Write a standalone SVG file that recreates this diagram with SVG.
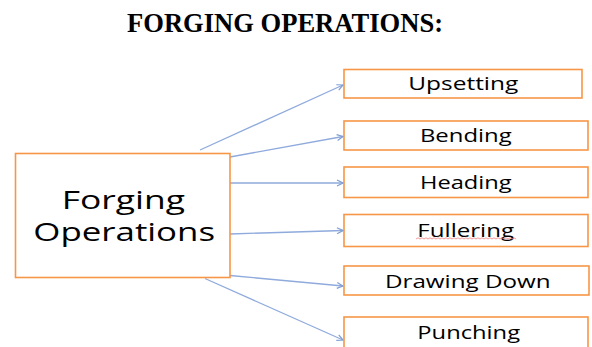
<svg xmlns="http://www.w3.org/2000/svg" width="592" height="347" viewBox="0 0 592 347">
<defs>
<style>
.box{fill:#fff;stroke:#F79646;stroke-width:1.6}
.lbl{font-family:"Open Sans","Liberation Sans",sans-serif;font-size:18px;fill:#000;text-anchor:middle}
.main{font-family:"Open Sans","Liberation Sans",sans-serif;font-size:25.5px;fill:#000;text-anchor:middle}
.title{font-family:"Liberation Serif","Times New Roman",serif;font-size:26.5px;font-weight:bold;fill:#000;text-anchor:middle}
.conn{stroke:#8FAADC;stroke-width:1.3;fill:none;marker-end:url(#arr)}
</style>
<marker id="arr" markerWidth="8" markerHeight="8" refX="7" refY="4" orient="auto" markerUnits="userSpaceOnUse">
<path d="M1,1 L7,4 L1,7" fill="none" stroke="#7F9FD3" stroke-width="1.2"/>
</marker>
</defs>
<rect width="592" height="347" fill="#fff"/>
<text class="title" x="285" y="31.5" textLength="316" lengthAdjust="spacingAndGlyphs">FORGING OPERATIONS:</text>
<g id="connectors">
<line class="conn" x1="200" y1="150" x2="343" y2="85"/>
<line class="conn" x1="230" y1="157" x2="343" y2="136.5"/>
<line class="conn" x1="230" y1="183" x2="343" y2="183"/>
<line class="conn" x1="230" y1="234" x2="343" y2="230.5"/>
<line class="conn" x1="230" y1="275.5" x2="343" y2="286"/>
<line class="conn" x1="205" y1="278.5" x2="343" y2="340"/>
</g>
<g id="forging-operations">
<rect class="box" x="15.5" y="153.5" width="214.5" height="124"/>
<text class="main" x="123.3" y="208.5" textLength="123.3" lengthAdjust="spacingAndGlyphs">Forging</text>
<text class="main" x="124.2" y="241" textLength="181.7" lengthAdjust="spacingAndGlyphs">Operations</text>
</g>
<g id="upsetting">
<rect class="box" x="344" y="69.5" width="238" height="28.5"/>
<text class="lbl" x="463.3" y="90" textLength="110" lengthAdjust="spacingAndGlyphs">Upsetting</text>
</g>
<g id="bending">
<rect class="box" x="344" y="121" width="244" height="29"/>
<text class="lbl" x="465.8" y="142" textLength="91.7" lengthAdjust="spacingAndGlyphs">Bending</text>
</g>
<g id="heading">
<rect class="box" x="344" y="167" width="244" height="30.5"/>
<text class="lbl" x="465.8" y="188.5" textLength="91.7" lengthAdjust="spacingAndGlyphs">Heading</text>
</g>
<g id="fullering">
<rect class="box" x="344" y="214.5" width="244" height="32"/>
<text class="lbl" x="465.7" y="237" textLength="96.7" lengthAdjust="spacingAndGlyphs">Fullering</text>
<path d="M416,239 l2,-1.2 l2,1.2 l2,-1.2 l2,1.2 l2,-1.2 l2,1.2 l2,-1.2 l2,1.2 l2,-1.2 l2,1.2 l2,-1.2 l2,1.2 l2,-1.2 l2,1.2 l2,-1.2 l2,1.2 l2,-1.2 l2,1.2 l2,-1.2 l2,1.2 l2,-1.2 l2,1.2 l2,-1.2 l2,1.2 l2,-1.2 l2,1.2 l2,-1.2 l2,1.2 l2,-1.2 l2,1.2 l2,-1.2 l2,1.2 l2,-1.2 l2,1.2 l2,-1.2 l2,1.2 l2,-1.2 l2,1.2 l2,-1.2 l2,1.2 l2,-1.2 l2,1.2 l2,-1.2 l2,1.2 l2,-1.2 l2,1.2 l2,-1.2 l2,1.2 l2,-1.2 l2,1.2" fill="none" stroke="#F08080" stroke-width="0.8"/>
</g>
<g id="drawing-down">
<rect class="box" x="344" y="266" width="245" height="29"/>
<text class="lbl" x="467.8" y="287.5" textLength="165.7" lengthAdjust="spacingAndGlyphs">Drawing Down</text>
</g>
<g id="punching">
<rect class="box" x="344" y="317" width="244" height="40"/>
<text class="lbl" x="468.7" y="338.5" textLength="102.7" lengthAdjust="spacingAndGlyphs">Punching</text>
</g>
</svg>
